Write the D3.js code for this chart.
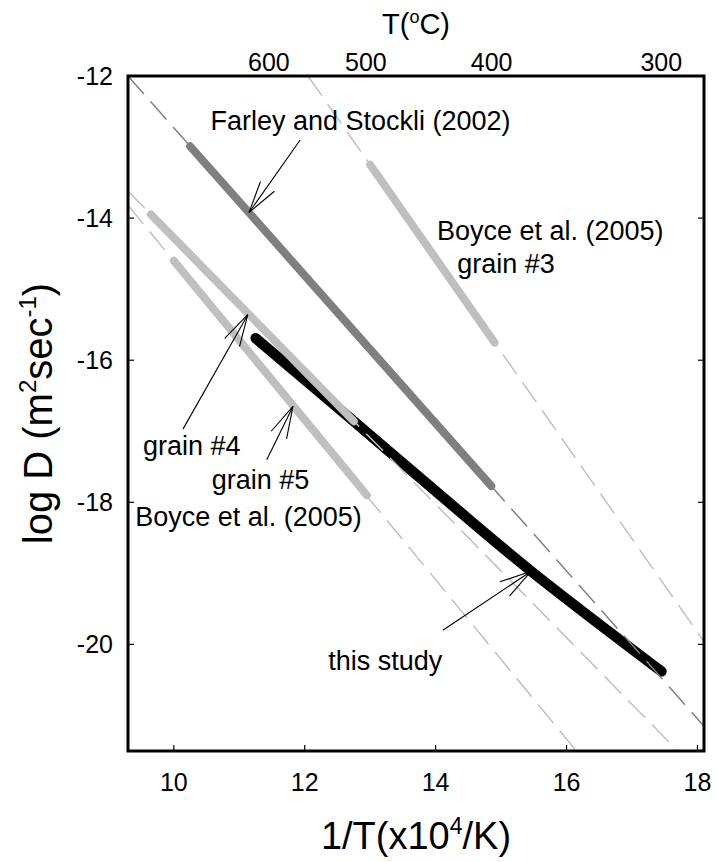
<!DOCTYPE html>
<html>
<head>
<meta charset="utf-8">
<script src="https://cdn.jsdelivr.net/npm/d3@7"></script>
<style>
  body { margin: 0; background: #fff; }
  text { font-family: "Liberation Sans", Arial, sans-serif; fill: #000; }
</style>
</head>
<body>
<svg id="chart" width="717" height="862"></svg>
<script>
// thick segments, [1/T (x10^4/K), log D]
const farleySeg = [[10.25, -12.99], [14.85, -17.77]];
const grain3Seg = [[13.0, -13.25], [14.9, -15.75]];
const grain4Seg = [[9.65, -13.95], [12.75, -16.86]];
const grain5Seg = [[10.0, -14.6], [12.95, -17.9]];
const thisStudy = [[11.25, -15.69], [12.7, -16.82], [14.2, -18.0], [15.46, -18.97], [17.45, -20.38]];

// dashed extrapolations, read where they cross the frame
const farleyRef = [[9.3, -12], [18.1, -21.15]];
const grain3Ref = [[12.05, -12], [18.1, -19.96]];
const grain4Ref = [[9.3, -13.62], [17.7, -21.5]];
const grain5Ref = [[9.3, -13.82], [16.15, -21.5]];

const xTicks = [10, 12, 14, 16, 18];
const yTicks = [-12, -14, -16, -18, -20];
const tempTicks = [600, 500, 400, 300];

// arrows [tail, tip]
const arrows = [
  [[11.93, -12.9], [11.15, -13.92]],
  [[10.14, -16.97], [11.13, -15.36]],
  [[11.42, -17.40], [11.82, -16.65]],
  [[14.11, -19.80], [15.46, -18.97]]
];

const svg = d3.select("#chart");
const mL = 128, mT = 76, mR = 704, mB = 751;

const x = d3.scaleLinear().domain([9.3, 18.1]).range([mL, mR]);
const y = d3.scaleLinear().domain([-12, -21.5]).range([mT, mB]);

svg.append("clipPath").attr("id", "clip")
  .append("rect").attr("x", mL).attr("y", mT)
  .attr("width", mR - mL).attr("height", mB - mT);

const line = d3.line().x(d => x(d[0])).y(d => y(d[1]));
const smooth = d3.line().x(d => x(d[0])).y(d => y(d[1])).curve(d3.curveCatmullRom);
const plot = svg.append("g").attr("clip-path", "url(#clip)");

// this study
plot.append("path").attr("d", smooth(thisStudy))
  .attr("fill", "none").attr("stroke", "#000").attr("stroke-width", 10.5)
  .attr("stroke-linecap", "round").attr("stroke-linejoin", "round");

// thick segments
const segs = [
  { d: farleySeg, c: "#7f7f7f" },
  { d: grain3Seg, c: "#bfbfbf" },
  { d: grain4Seg, c: "#bfbfbf" },
  { d: grain5Seg, c: "#bfbfbf" }
];
segs.forEach(s => {
  plot.append("path").attr("d", line(s.d))
    .attr("fill", "none").attr("stroke", s.c).attr("stroke-width", 8)
    .attr("stroke-linecap", "round");
});

// dashed lines
const refs = [
  { d: farleyRef, c: "#808080" },
  { d: grain3Ref, c: "#c0c0c0" },
  { d: grain4Ref, c: "#c0c0c0" },
  { d: grain5Ref, c: "#c0c0c0" }
];
refs.forEach(r => {
  plot.append("path").attr("d", line(r.d))
    .attr("fill", "none").attr("stroke", r.c).attr("stroke-width", 1.5)
    .attr("stroke-dasharray", "24,10");
});

// arrows
arrows.forEach(a => {
  const x1 = x(a[0][0]), y1 = y(a[0][1]), x2 = x(a[1][0]), y2 = y(a[1][1]);
  const ang = Math.atan2(y1 - y2, x1 - x2);
  const len = 33, spread = 15 * Math.PI / 180;
  const g = svg.append("g").attr("stroke", "#000").attr("stroke-width", 1.1).attr("fill", "none");
  g.append("line").attr("x1", x1).attr("y1", y1).attr("x2", x2).attr("y2", y2);
  [-1, 1].forEach(k => {
    g.append("line").attr("x1", x2).attr("y1", y2)
      .attr("x2", x2 + len * Math.cos(ang + k * spread))
      .attr("y2", y2 + len * Math.sin(ang + k * spread));
  });
});

// frame
svg.append("rect").attr("x", mL).attr("y", mT)
  .attr("width", mR - mL).attr("height", mB - mT)
  .attr("fill", "none").attr("stroke", "#000").attr("stroke-width", 3);

// ticks (inward)
const tl = 6;
svg.selectAll(".yt").data(yTicks).join("line")
  .attr("x1", mL).attr("x2", mL + tl)
  .attr("y1", d => y(d)).attr("y2", d => y(d))
  .attr("stroke", "#000").attr("stroke-width", 1.2);
svg.selectAll(".yr").data(yTicks).join("line")
  .attr("x1", mR).attr("x2", mR - tl)
  .attr("y1", d => y(d)).attr("y2", d => y(d))
  .attr("stroke", "#000").attr("stroke-width", 1.2);
svg.selectAll(".xt").data(xTicks).join("line")
  .attr("x1", d => x(d)).attr("x2", d => x(d))
  .attr("y1", mB).attr("y2", mB - tl)
  .attr("stroke", "#000").attr("stroke-width", 1.2);

// tick labels
svg.selectAll(".yl").data(yTicks).join("text")
  .attr("x", 113).attr("y", d => y(d)).attr("dy", "0.35em")
  .attr("text-anchor", "end").style("font-size", "25px")
  .text(d => d);
svg.selectAll(".xl").data(xTicks).join("text")
  .attr("x", d => x(d)).attr("y", 791)
  .attr("text-anchor", "middle").style("font-size", "25px")
  .text(d => d);
svg.selectAll(".tl").data(tempTicks).join("text")
  .attr("x", d => x(1e4 / (d + 273.15))).attr("y", 71)
  .attr("text-anchor", "middle").style("font-size", "25px")
  .text(d => d);

// axis titles
const tt = svg.append("text").attr("x", (mL + mR) / 2).attr("y", 34)
  .attr("text-anchor", "middle").style("font-size", "29px");
tt.append("tspan").text("T(");
tt.append("tspan").attr("dy", -11).style("font-size", "18px").text("o");
tt.append("tspan").attr("dy", 11).text("C)");

const xt = svg.append("text").attr("x", (mL + mR) / 2).attr("y", 849)
  .attr("text-anchor", "middle").style("font-size", "38px");
xt.append("tspan").text("1/T(x10");
xt.append("tspan").attr("dy", -15).style("font-size", "23px").text("4");
xt.append("tspan").attr("dy", 15).text("/K)");

const yt = svg.append("text")
  .attr("transform", `translate(52,${(mT + mB) / 2}) rotate(-90)`)
  .attr("text-anchor", "middle").style("font-size", "40px");
yt.append("tspan").text("log D (m");
yt.append("tspan").attr("dy", -16).style("font-size", "24px").text("2");
yt.append("tspan").attr("dy", 16).text("sec");
yt.append("tspan").attr("dy", -16).style("font-size", "24px").text("-1");
yt.append("tspan").attr("dy", 16).text(")");

// annotations
const labels = [
  { t: "Farley and Stockli (2002)", x: 10.56, y: -12.76 },
  { t: "Boyce et al. (2005)", x: 14.02, y: -14.31 },
  { t: "grain #3", x: 14.33, y: -14.77 },
  { t: "grain #4", x: 9.53, y: -17.34 },
  { t: "grain #5", x: 10.58, y: -17.81 },
  { t: "Boyce et al. (2005)", x: 9.41, y: -18.34 },
  { t: "this study", x: 12.36, y: -20.36 }
];
svg.selectAll(".ann").data(labels).join("text")
  .attr("x", d => x(d.x)).attr("y", d => y(d.y))
  .style("font-size", "27px")
  .text(d => d.t);
</script>
</body>
</html>
